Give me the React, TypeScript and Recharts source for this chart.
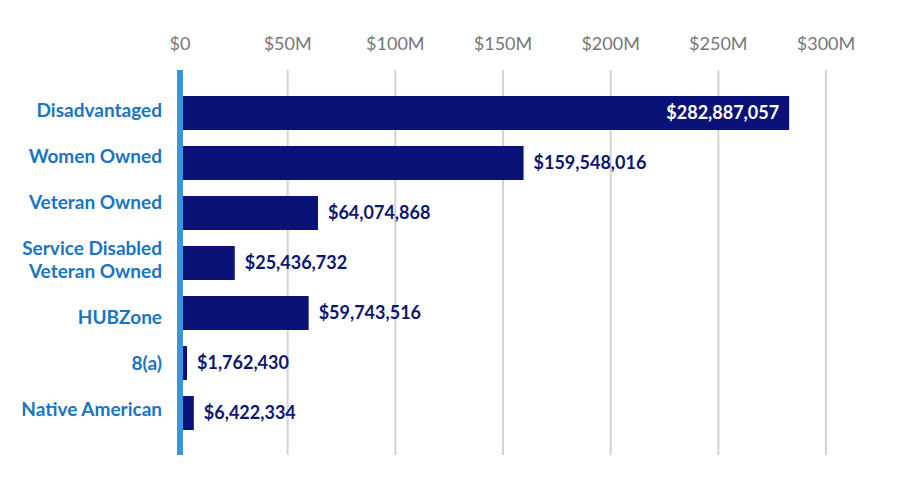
import React from 'react';
import { BarChart, Bar, XAxis, YAxis, CartesianGrid, ReferenceLine, LabelList } from 'recharts';

const categories = [
  'Disadvantaged',
  'Women Owned',
  'Veteran Owned',
  'Service Disabled\nVeteran Owned',
  'HUBZone',
  '8(a)',
  'Native American',
];
const values = [282887057, 159548016, 64074868, 25436732, 59743516, 1762430, 6422334];
const xTicks = [0, 50000000, 100000000, 150000000, 200000000, 250000000, 300000000];

const data = categories.map((name, i) => ({ name, value: values[i] }));

const FONT = 'Lato, "Source Sans Pro", sans-serif';
const BAR = '#0a1278';
const NAVY = '#0d1670';
const BLUE_LABEL = '#1a74c4';
const LINE_PITCH = 23;
const BAND = 50;

// category labels are laid out as a text flow: one blank line between items
function lineStart(index: number) {
  let k = 0;
  for (let i = 0; i < index; i++) k += categories[i].split('\n').length + 1;
  return k;
}

function YTick(props: any) {
  const { x, y, payload, index } = props;
  const lines = String(payload.value).split('\n');
  const idx = typeof index === 'number' ? index : categories.indexOf(payload.value);
  const base = y - BAND * idx + 4 + LINE_PITCH * lineStart(idx);
  return (
    <text x={x} y={y} textAnchor="end" fill={BLUE_LABEL} fontFamily={FONT} fontWeight={700} fontSize={19}>
      {lines.map((l, i) => (
        <tspan key={i} x={x} y={base + i * LINE_PITCH}>
          {l}
        </tspan>
      ))}
    </text>
  );
}

function renderLabel(props: any) {
  const vb = props.viewBox || props;
  const { x, y, width, height } = vb;
  const value = props.value;
  const text = '$' + Number(value).toLocaleString('en-US');
  const cy = y + height / 2;
  if (props.index === 0) {
    return (
      <text x={x + width - 10} y={cy} dy={6} textAnchor="end" fill="#ffffff" fontFamily={FONT} fontWeight={700} fontSize={18}>
        {text}
      </text>
    );
  }
  return (
    <text x={x + width + 10} y={cy} dy={6} textAnchor="start" fill={NAVY} fontFamily={FONT} fontWeight={700} fontSize={18}>
      {text}
    </text>
  );
}

const fmt = (v: number) => (v === 0 ? '$0' : `$${v / 1000000}M`);

export default function App() {
  return (
    <div style={{ position: 'absolute', left: 0, top: 0, width: 908, height: 491, background: '#fff' }}>
      <BarChart
        width={908}
        height={491}
        data={data}
        layout="vertical"
        margin={{ top: 40, right: 82, bottom: 36, left: 0 }}
      >
        <CartesianGrid horizontal={false} vertical={true} stroke="#d3d3d3" strokeWidth={2} />
        <XAxis
          type="number"
          orientation="top"
          domain={[0, 300000000]}
          ticks={xTicks}
          tickFormatter={fmt}
          axisLine={false}
          tickLine={false}
          tickSize={0}
          tickMargin={20}
          height={30}
          interval={0}
          tick={{ fill: '#777777', fontSize: 18, fontFamily: FONT }}
        />
        <YAxis
          type="category"
          dataKey="name"
          width={180}
          axisLine={false}
          tickLine={false}
          tickSize={0}
          tickMargin={18}
          interval={0}
          padding={{ top: 18, bottom: 17 }}
          tick={<YTick />}
        />
        <Bar dataKey="value" fill={BAR} barSize={34} minPointSize={7} isAnimationActive={false}>
          <LabelList dataKey="value" content={renderLabel} />
        </Bar>
        <ReferenceLine x={0} stroke="#3a95db" strokeWidth={6} />
      </BarChart>
    </div>
  );
}
